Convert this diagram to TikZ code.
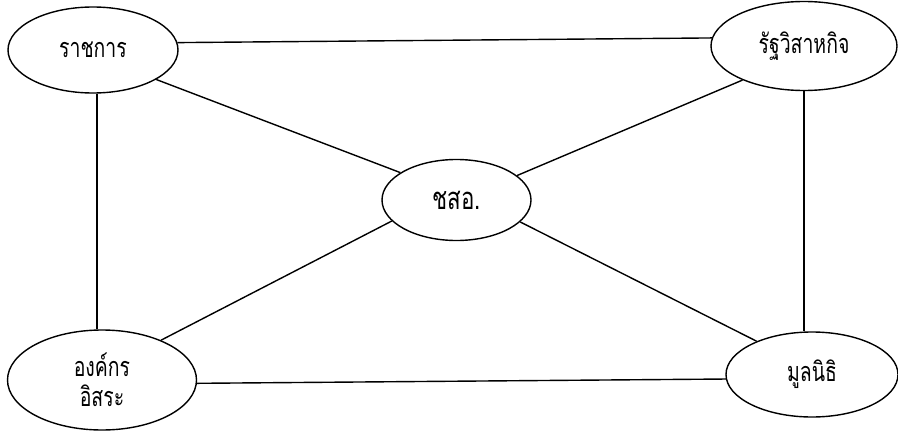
\documentclass[tikz,border=0pt]{standalone}
\usepackage{fontspec}
\usetikzlibrary{shapes.geometric}
\newfontfamily\thaifont[Script=Thai,FakeStretch=0.72]{Loma}
\tikzset{
  org/.style={draw, ellipse, line width=1.4pt, inner sep=0pt, align=center,
    font=\thaifont\fontsize{27}{30}\selectfont},
  link/.style={line width=1.4pt}
}
\begin{document}
\begin{tikzpicture}[x=1pt,y=-1pt]
\useasboundingbox (0,0) rectangle (898,431);
\node[org, minimum width=170pt, minimum height=86pt] (a) at (93,50) {ราชการ};
\node[org, minimum width=186pt, minimum height=89pt] (b) at (804,46) {รัฐวิสาหกิจ};
\node[org, minimum width=149pt, minimum height=81pt, font=\thaifont\fontsize{31}{34}\selectfont] (c) at (456.5,200) {ชสอ.};
\node[org, minimum width=189pt, minimum height=100pt] (d) at (102,380) {องค์กร\\อิสระ};
\node[org, minimum width=172pt, minimum height=85pt] (e) at (812,374.5) {มูลนิธิ};
\draw[link] (a.5.4) -- (b.175);
\draw[link] (a.-25.8) -- (c.154.5);
\draw[link] (b.209) -- (c.22.5);
\draw[link] (c.198) -- (d.34.6);
\draw[link] (c.-19) -- (e.149.4);
\draw[link] (d.-2.4) -- (e.183.7);
\draw[link] ([xshift=4pt]a.south) -- ([xshift=-5pt]d.north);
\draw[link] (b.south) -- (b.south |- e.north);
\end{tikzpicture}
\end{document}
